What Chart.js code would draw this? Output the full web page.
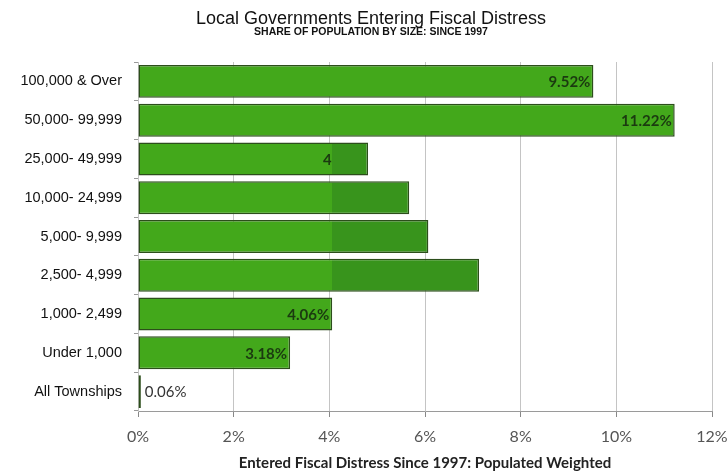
<!DOCTYPE html>
<html>
<head>
<meta charset="utf-8">
<script src="https://cdn.jsdelivr.net/npm/chart.js@4/dist/chart.umd.min.js"></script>
<style>
  html, body { margin: 0; padding: 0; background: #ffffff; }
  #wrap { width: 728px; height: 472px; position: relative; }
</style>
</head>
<body>
<div id="wrap"><canvas id="c" width="728" height="472"></canvas></div>
<script>
// ---- data ----
const categories = ['100,000 & Over', '50,000- 99,999', '25,000- 49,999', '10,000- 24,999',
  '5,000- 9,999', '2,500- 4,999', '1,000- 2,499', 'Under 1,000', 'All Townships'];
const shareValues = [9.52, 11.22, 4.81, 5.67, 6.07, 7.13, 4.06, 3.18, 0.06];
const xTickValues = [0, 2, 4, 6, 8, 10, 12];
const titleText = 'Local Governments Entering Fiscal Distress';
const subtitleText = 'SHARE OF POPULATION BY SIZE: SINCE 1997';
const xAxisTitle = 'Entered Fiscal Distress Since 1997: Populated Weighted';

// ---- styling ----
const lightGreen = '#43a81b';
const darkGreen = '#38941c';
const borderGreen = '#2c4e1b';
const splitAt = 4.05;               // where the two-tone patch starts
const twoTone = [false, false, true, true, true, true, false, false, false];

function barFill(ctx) {
  const chart = ctx.chart;
  const i = ctx.dataIndex;
  if (!twoTone[i] || !chart.chartArea) return lightGreen;
  const xs = chart.scales.x;
  const x0 = xs.getPixelForValue(0);
  const x1 = xs.getPixelForValue(shareValues[i]);
  const xs4 = xs.getPixelForValue(splitAt);
  const g = chart.ctx.createLinearGradient(x0, 0, x1, 0);
  const f = Math.min(1, Math.max(0, (xs4 - x0) / (x1 - x0)));
  g.addColorStop(0, lightGreen);
  g.addColorStop(f, lightGreen);
  g.addColorStop(f, darkGreen);
  g.addColorStop(1, darkGreen);
  return g;
}

const titlePlugin = {
  id: 'titles',
  afterDraw(chart) {
    const c = chart.ctx;
    c.save();
    c.textAlign = 'center';
    c.textBaseline = 'middle';
    c.fillStyle = '#111111';
    c.font = '18px "Liberation Sans", Arial, sans-serif';
    c.fillText(titleText, 371, 19);
    c.font = 'bold 10.5px "Liberation Sans", Arial, sans-serif';
    c.fillText(subtitleText, 371, 32);
    c.restore();
  }
};

const labelPlugin = {
  id: 'barLabels',
  afterDatasetsDraw(chart) {
    const c = chart.ctx;
    const meta = chart.getDatasetMeta(0);
    const xs = chart.scales.x;
    meta.data.forEach((bar, i) => {
      const txt = shareValues[i].toFixed(2) + '%';
      c.save();
      c.textBaseline = 'middle';
      const inside = (bar.x - bar.base) > 50;
      if (inside) {
        if (twoTone[i]) {
          const cx = xs.getPixelForValue(splitAt);
          c.beginPath();
          c.rect(0, 0, cx, chart.height);
          c.clip();
        }
        c.textAlign = 'right';
        c.fillStyle = '#1b3a10';
        c.font = 'bold 15px Lato, "Open Sans", sans-serif';
        c.fillText(txt, bar.x - 3, bar.y + 1);
      } else {
        c.textAlign = 'left';
        c.fillStyle = '#333333';
        c.font = '15px Lato, "Open Sans", sans-serif';
        c.fillText(txt, bar.x + 4, bar.y + 1);
      }
      c.restore();
    });
  }
};

new Chart(document.getElementById('c'), {
  type: 'bar',
  data: {
    labels: categories,
    datasets: [{
      data: shareValues,
      backgroundColor: barFill,
      borderColor: borderGreen,
      borderWidth: 1.5,
      borderSkipped: false,
      barPercentage: 0.85,
      categoryPercentage: 1.0
    }]
  },
  options: {
    indexAxis: 'y',
    responsive: false,
    animation: false,
    devicePixelRatio: 1,
    layout: { padding: { top: 62, right: 0, left: 0, bottom: 0 } },
    plugins: {
      legend: { display: false },
      tooltip: { enabled: false }
    },
    scales: {
      x: {
        min: 0,
        max: 12,
        afterBuildTicks(scale) { scale.ticks = xTickValues.map(v => ({ value: v })); },
        afterFit(scale) { scale.height = 61; scale.paddingRight = 16; scale.paddingLeft = 0; },
        ticks: {
          callback: v => v + '%',
          color: '#555555',
          font: { family: 'Lato, "Open Sans", sans-serif', size: 16 },
          padding: 10,
          maxRotation: 0
        },
        grid: { color: '#c4c4c4', lineWidth: 1, tickLength: 6, tickColor: '#888888' },
        border: { color: '#9a9a9a', width: 1 },
        title: {
          display: true,
          text: xAxisTitle,
          color: '#222222',
          font: { family: 'Lato, "Open Sans", sans-serif', size: 15, weight: 'bold' },
          padding: { top: 0, bottom: 0 }
        }
      },
      y: {
        afterFit(scale) { scale.width = 138; },
        ticks: {
          color: '#111111',
          font: { family: '"Liberation Sans", Arial, sans-serif', size: 14.5 },
          padding: 12
        },
        grid: { display: true, drawOnChartArea: false, tickLength: 4, color: '#9a9a9a', offset: true },
        border: { display: true, color: '#c4c4c4' }
      }
    }
  },
  plugins: [titlePlugin, labelPlugin]
});
</script>
</body>
</html>
